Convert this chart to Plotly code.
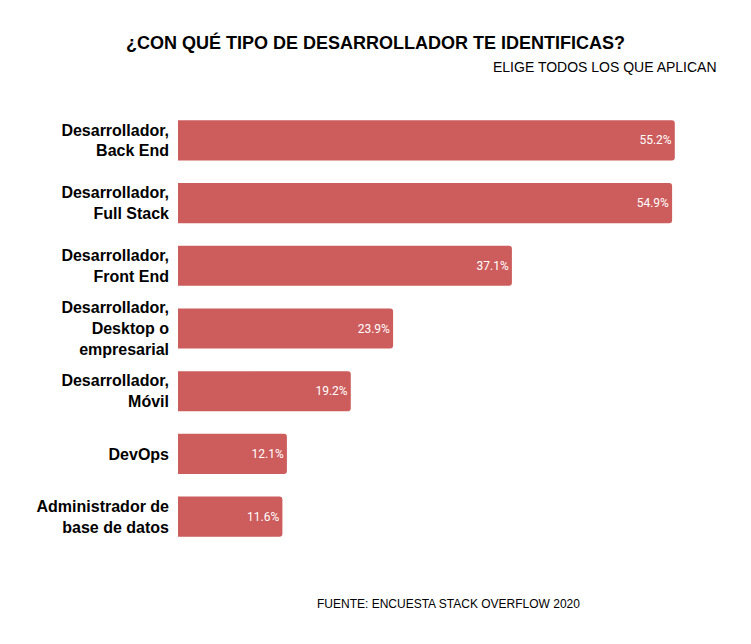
import plotly.graph_objects as go

categories = [
    "Desarrollador,<br>Back End",
    "Desarrollador,<br>Full Stack",
    "Desarrollador,<br>Front End",
    "Desarrollador,<br>Desktop o<br>empresarial",
    "Desarrollador,<br>Móvil",
    "DevOps",
    "Administrador de<br>base de datos",
]
values = [55.2, 54.9, 37.1, 23.9, 19.2, 12.1, 11.6]
labels = [f"{v:.1f}%" for v in values]

fig = go.Figure(go.Bar(
    x=values, y=categories, orientation="h",
    marker=dict(color="#cd5c5c", cornerradius=3, line=dict(width=0)),
    width=0.64,
    text=labels, textposition="inside", insidetextanchor="end",
    textfont=dict(family="Roboto", size=12, color="white"),
    constraintext="none",
    hoverinfo="skip",
))

fig.update_layout(
    width=751, height=644,
    paper_bgcolor="white", plot_bgcolor="white",
    margin=dict(l=170, r=41, t=101, b=104),
    showlegend=False,
    uniformtext=dict(minsize=12, mode="show"),
    xaxis=dict(range=[0, 60], visible=False, fixedrange=True),
    yaxis=dict(autorange="reversed", showgrid=False, zeroline=False, showline=False,
               ticks="", ticklabelstandoff=8,
               tickfont=dict(family="Liberation Sans, Arial", size=16, color="black", weight="bold")),
    font=dict(family="Liberation Sans, Arial"),
    annotations=[
        dict(text="<b>¿CON QUÉ TIPO DE DESARROLLADOR TE IDENTIFICAS?</b>", xref="paper", yref="paper",
             x=(375 - 178) / 540, y=1 + (109 - 43) / 439, xanchor="center", yanchor="middle",
             showarrow=False, font=dict(size=18, color="black")),
        dict(text="ELIGE TODOS LOS QUE APLICAN", xref="paper", yref="paper",
             x=(719 - 178) / 540, y=1 + (109 - 67) / 439, xanchor="right", yanchor="middle",
             showarrow=False, font=dict(size=14, color="black")),
        dict(text="FUENTE: ENCUESTA STACK OVERFLOW 2020", xref="paper", yref="paper",
             x=0.5, y=-(604 - 548) / 439, xanchor="center", yanchor="middle",
             showarrow=False, font=dict(size=12, color="black")),
    ],
)

fig.write_html("out.html")
